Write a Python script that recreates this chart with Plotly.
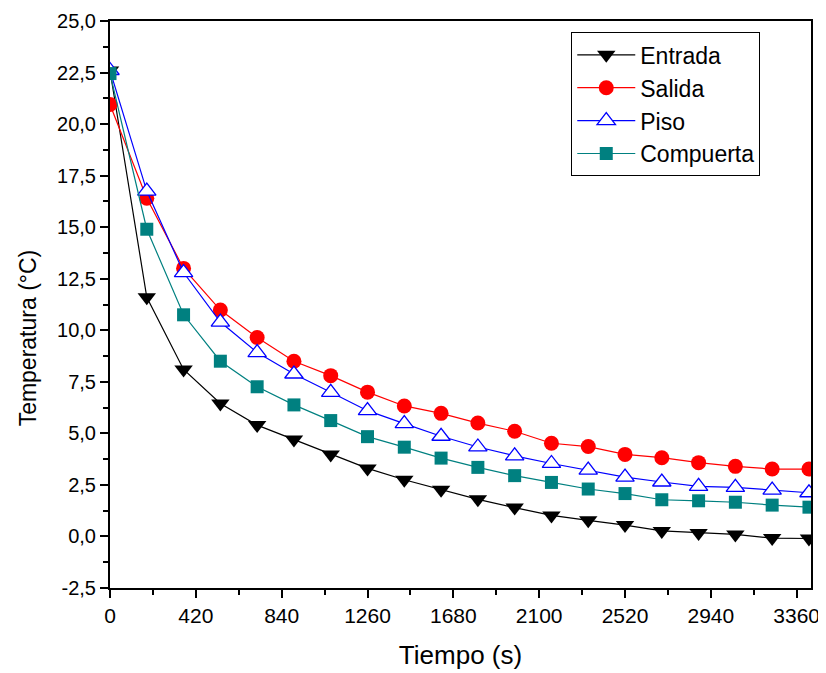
import plotly.graph_objects as go

# time (s)
tiempo = [0, 180, 360, 540, 720, 900, 1080, 1260, 1440, 1620,
          1800, 1980, 2160, 2340, 2520, 2700, 2880, 3060, 3240, 3420]

entrada = [22.6, 11.6, 8.1, 6.45, 5.4, 4.7, 3.97, 3.3, 2.75, 2.27,
           1.8, 1.4, 1.02, 0.78, 0.55, 0.27, 0.17, 0.1, -0.08, -0.1]
salida = [20.95, 16.4, 13.0, 10.98, 9.65, 8.5, 7.8, 7.0, 6.33, 5.97,
          5.5, 5.1, 4.52, 4.36, 3.98, 3.82, 3.58, 3.4, 3.27, 3.27]
piso = [22.6, 16.75, 12.8, 10.4, 8.92, 7.88, 6.99, 6.1, 5.47, 4.86,
        4.34, 3.91, 3.54, 3.22, 2.88, 2.64, 2.43, 2.38, 2.25, 2.12]
compuerta = [22.45, 14.9, 10.75, 8.5, 7.26, 6.38, 5.62, 4.84, 4.33, 3.8,
             3.35, 2.95, 2.62, 2.3, 2.08, 1.78, 1.73, 1.66, 1.52, 1.42]

# y tick labels (hyphen minus, comma decimal as in the original)
y_ticks = [-2.5, 0, 2.5, 5, 7.5, 10, 12.5, 15, 17.5, 20, 22.5, 25]
y_labels = ["-2,5", "0,0", "2,5", "5,0", "7,5", "10,0", "12,5",
            "15,0", "17,5", "20,0", "22,5", "25,0"]

fnt = "Arial, Liberation Sans, sans-serif"

fig = go.Figure()

fig.add_trace(go.Scatter(
    x=tiempo, y=entrada, name="Entrada", mode="lines+markers",
    line=dict(color="black", width=1.2),
    marker=dict(symbol="triangle-down", size=16, color="black")
))
fig.add_trace(go.Scatter(
    x=tiempo, y=salida, name="Salida", mode="lines+markers",
    line=dict(color="#ff0000", width=1.2),
    marker=dict(symbol="circle", size=15, color="#ff0000")
))
fig.add_trace(go.Scatter(
    x=tiempo, y=piso, name="Piso", mode="lines+markers",
    line=dict(color="#0000ff", width=1.2),
    marker=dict(symbol="triangle-up", size=16, color="white",
                line=dict(color="#0000ff", width=1.3))
))
fig.add_trace(go.Scatter(
    x=tiempo, y=compuerta, name="Compuerta", mode="lines+markers",
    line=dict(color="#008080", width=1.2),
    marker=dict(symbol="square", size=13, color="#008080")
))

# page body adds an 8px offset, margins compensate for it
fig.update_layout(
    width=826, height=673,
    margin=dict(l=102, r=23, t=13, b=93),
    plot_bgcolor="white", paper_bgcolor="white",
    separators=",.",
    font=dict(family=fnt, color="black", size=20),
    legend=dict(
        x=0.658, y=0.98, xanchor="left", yanchor="top",
        bordercolor="black", borderwidth=1, bgcolor="white",
        font=dict(size=23, family=fnt), tracegroupgap=0,
        itemwidth=58
    ),
    xaxis=dict(
        range=[0, 3430], tick0=0, dtick=420, automargin=False,
        ticklabeloverflow="allow",
        ticks="outside", ticklen=8, tickwidth=2, tickcolor="black",
        minor=dict(dtick=210, ticks="outside", ticklen=5, tickwidth=2, tickcolor="black"),
        showline=True, linewidth=2, linecolor="black", mirror=True,
        showgrid=False, zeroline=False,
        tickfont=dict(size=21),
        title=dict(text="Tiempo (s)", font=dict(size=26), standoff=20)
    ),
    yaxis=dict(
        range=[-2.5, 25], tickmode="array", tickvals=y_ticks, ticktext=y_labels,
        automargin=False, ticklabeloverflow="allow",
        ticks="outside", ticklen=8, tickwidth=2, tickcolor="black",
        minor=dict(dtick=1.25, ticks="outside", ticklen=5, tickwidth=2, tickcolor="black"),
        showline=True, linewidth=2, linecolor="black", mirror=True,
        showgrid=False, zeroline=False,
        tickfont=dict(size=20)
    ),
)

# y title sits a bit below the plot centre in the original
fig.add_annotation(
    text="Temperatura (°C)", textangle=-90,
    xref="paper", yref="paper", x=-0.117, y=0.442,
    xanchor="center", yanchor="middle", showarrow=False,
    font=dict(size=23, family=fnt, color="black")
)

fig.write_html("out.html")
